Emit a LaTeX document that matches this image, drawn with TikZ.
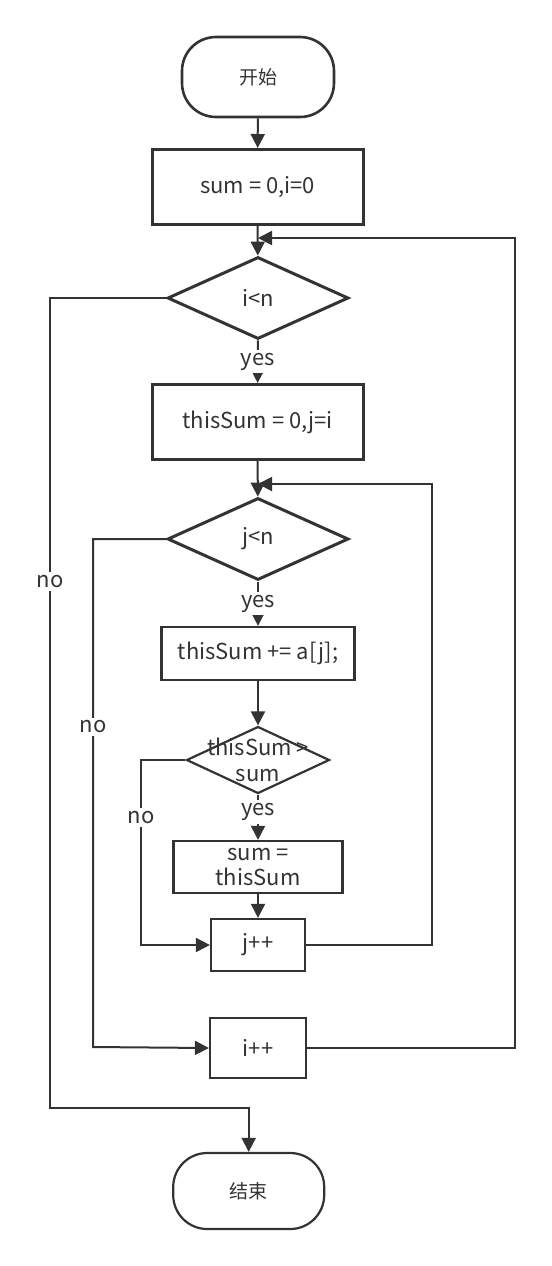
\documentclass[tikz,border=0pt]{standalone}
\usepackage{fontspec}
\setmainfont{Noto Sans CJK SC}
\usetikzlibrary{arrows.meta, positioning, shapes.geometric}
\definecolor{ink}{HTML}{333333}

\begin{document}
\begin{tikzpicture}[
        x=0.5pt, y=-0.5pt,
        font=\fontsize{11}{12.5}\selectfont,
        terminal/.style={draw=ink, line width=1.3pt, rounded corners=17pt,
            minimum width=76pt, minimum height=40pt, text=ink,
            font=\fontsize{9.5}{11}\selectfont},
        proc/.style={draw=ink, line width=1.1pt, align=center, text=ink, inner sep=2pt},
        bigproc/.style={proc, line width=1.5pt, minimum width=105.5pt, minimum height=37.5pt},
        decision/.style={draw=ink, diamond, line width=1.5pt, inner sep=0pt, text=ink,
            minimum width=90.5pt, minimum height=41pt},
        flow/.style={draw=ink, line width=1pt, -{Triangle[length=7pt, width=7pt]}},
        lbl/.style={fill=white, text=ink, inner sep=1.5pt},
    ]
        \useasboundingbox (0,0) rectangle (552,1266);

        % Nodes
        \node[terminal] (start) at (258,77) {开始};
        \node[bigproc] (init) at (257.5,187) {sum = 0,i=0};
        \node[decision] (condI) at (258,298) {i<n};
        \node[bigproc] (reset) at (257.5,422) {thisSum = 0,j=i};
        \node[decision] (condJ) at (258,539) {j<n};
        \node[proc, minimum width=96.5pt, minimum height=26.5pt] (body) at (258,653.5) {thisSum += a[j];};
        \node[decision, line width=1.1pt, minimum width=71.5pt, minimum height=33.5pt,
            label={[align=center, text=ink, font=\fontsize{11}{13}\selectfont]center:thisSum >\\sum}] (condMax) at (258,760) {};
        \node[proc, minimum width=84.5pt, minimum height=26pt] (update) at (258,867) {sum =\\thisSum};
        \node[proc, minimum width=47pt, minimum height=26pt] (incJ) at (258,945) {j++};
        \node[proc, minimum width=48pt, minimum height=30pt] (incI) at (258,1048) {i++};
        \node[terminal, line width=1.1pt, minimum width=75.5pt, minimum height=38pt] (stop) at (248.7,1191) {结束};

        \coordinate (joinI) at (258,238);
        \coordinate (joinJ) at (258,484);

        % Main flow
        \draw[flow] (start) -- (init);
        \draw[flow] (init) -- (condI);
        \draw[flow] (condI) -- node[lbl] {yes} (reset);
        \draw[flow] (reset) -- (condJ);
        \draw[flow] (condJ) -- node[lbl] {yes} (body);
        \draw[flow] (body) -- (condMax);
        \draw[flow] (condMax) -- node[lbl, pos=0.38] {yes} (update);
        \draw[flow] (update) -- (incJ);

        % No branches
        \draw[flow] (condMax.west) -- (141,760) -- node[lbl, pos=0.31] {no} (141,945) -- (incJ.west);
        \draw[flow] (condJ.west) -- (93,539) -- node[lbl, pos=0.37] {no} (93,1047) -- (incI.west);
        \draw[flow] (condI.west) -- (50,298) -- node[lbl, pos=0.35] {no} (50,1108) -| (stop.north);

        % Loops back
        \draw[flow] (incJ.east) -- (432,945) |- (joinJ);
        \draw[flow] (incI.east) -- (515,1048) |- (joinI);
    \end{tikzpicture}
\end{document}
